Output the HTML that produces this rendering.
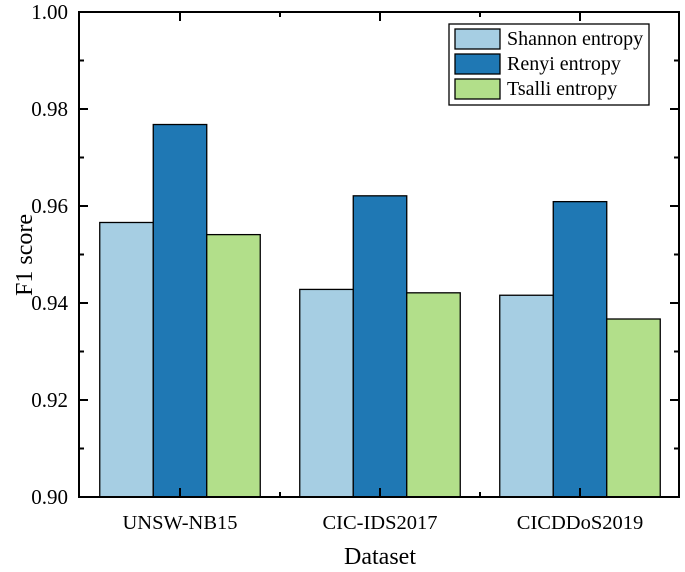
<!DOCTYPE html>
<html><head><meta charset="utf-8"><style>
body{margin:0;background:#fff}
svg{display:block;font-family:"Liberation Serif",serif}
</style></head><body>
<svg id="chart" width="685" height="572"></svg>
<script>
const categories=["UNSW-NB15","CIC-IDS2017","CICDDoS2019"];
const seriesNames=["Shannon entropy","Renyi entropy","Tsalli entropy"];
const shannon=[0.9566,0.9428,0.9416];
const renyi=[0.9768,0.9621,0.9609];
const tsalli=[0.9541,0.9421,0.9367];
const yTicks=[0.90,0.92,0.94,0.96,0.98,1.00];
const colors=["#a6cee3","#1f78b4","#b2df8a"];
const series=[shannon,renyi,tsalli];
const L=79,R=679,T=12,B=497,ymin=0.9,ymax=1.0;
const svg=document.getElementById('chart');
const NS="http://www.w3.org/2000/svg";
function y(v){return B-(v-ymin)/(ymax-ymin)*(B-T);}
function xc(i){return L+101+i*200;}
function mk(t,a,p){const e=document.createElementNS(NS,t);for(const k in a)e.setAttribute(k,a[k]);(p||svg).appendChild(e);return e;}
const bw=53.5;
series.forEach((s,si)=>{s.forEach((v,i)=>{
  const x=xc(i)-1.5*bw+si*bw;
  const r=mk('rect',{x:x,y:y(v),width:bw,height:B-y(v),fill:colors[si],stroke:'#000','stroke-width':1.3});
  
  
});});
const frame=mk('rect',{x:L,y:T,width:R-L,height:B-T,fill:'none',stroke:'#000','stroke-width':2});


yTicks.forEach((v,i)=>{
  mk('line',{x1:L,x2:L+9,y1:y(v),y2:y(v),stroke:'#000','stroke-width':2});
  mk('line',{x1:R,x2:R-9,y1:y(v),y2:y(v),stroke:'#000','stroke-width':2});
  if(i<yTicks.length-1){const m=y(v+0.01);
    mk('line',{x1:L,x2:L+5,y1:m,y2:m,stroke:'#000','stroke-width':2});
    mk('line',{x1:R,x2:R-5,y1:m,y2:m,stroke:'#000','stroke-width':2});}
  const t=mk('text',{x:L-11,y:y(v)+7,'text-anchor':'end','font-size':21});
  t.textContent=v.toFixed(2);
  
  
});
categories.forEach((c,i)=>{
  mk('line',{x1:xc(i),x2:xc(i),y1:B,y2:B-9,stroke:'#000','stroke-width':2});
  mk('line',{x1:xc(i),x2:xc(i),y1:T,y2:T+9,stroke:'#000','stroke-width':2});
  if(i<categories.length-1){mk('line',{x1:xc(i)+100,x2:xc(i)+100,y1:B,y2:B-5,stroke:'#000','stroke-width':2});
    mk('line',{x1:xc(i)+100,x2:xc(i)+100,y1:T,y2:T+5,stroke:'#000','stroke-width':2});}
  const t=mk('text',{x:xc(i),y:529,'text-anchor':'middle','font-size':20.5});
  t.textContent=c;
  
  
});
const xt=mk('text',{x:380,y:564,'text-anchor':'middle','font-size':24});xt.textContent='Dataset';


const yt=mk('text',{x:0,y:0,'text-anchor':'middle','font-size':24,transform:'translate(32,255) rotate(-90)'});yt.textContent='F1 score';


const lg=mk('g',{});


mk('rect',{x:449,y:24,width:200,height:81,fill:'#fff',stroke:'#000','stroke-width':1.3},lg);
seriesNames.forEach((n,i)=>{
  const sw=mk('rect',{x:455,y:29+i*25,width:45,height:20,fill:colors[i],stroke:'#000','stroke-width':1.3},lg);
  
  
  const t=mk('text',{x:507,y:45+i*25,'font-size':20},lg);t.textContent=n;
  
  
});
</script>
</body></html>
